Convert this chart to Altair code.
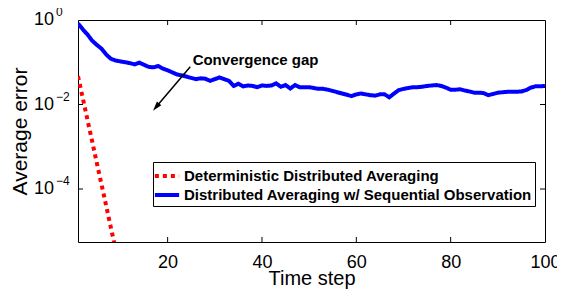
import altair as alt
import pandas as pd

# ---------------- data ----------------
series_names = ["Deterministic Distributed Averaging",
                "Distributed Averaging w/ Sequential Observation"]

# Deterministic averaging (red dotted): time steps and log10(error)
red_steps = [1, 2, 3, 4, 5, 6, 7, 8, 9]
red_log10 = [-1.33, -1.84, -2.36, -2.87, -3.39, -3.90, -4.41, -4.93, -5.44]

# Sequential observation (blue solid): time steps 1..100 and log10(error)
blue_steps = list(range(1, 101))
blue_log10 = [
    -0.08, -0.22, -0.34, -0.49, -0.59, -0.68, -0.82, -0.92, -0.96, -0.98,
    -1.00, -1.02, -1.05, -1.01, -1.06, -1.11, -1.12, -1.09, -1.15, -1.19,
    -1.24, -1.29, -1.31, -1.34, -1.37, -1.40, -1.38, -1.39, -1.44, -1.40,
    -1.36, -1.40, -1.44, -1.56, -1.51, -1.57, -1.55, -1.56, -1.59, -1.55,
    -1.56, -1.55, -1.50, -1.58, -1.54, -1.62, -1.54, -1.59, -1.59, -1.59,
    -1.61, -1.63, -1.63, -1.65, -1.68, -1.71, -1.74, -1.77, -1.80, -1.76,
    -1.74, -1.76, -1.78, -1.79, -1.76, -1.76, -1.83, -1.74, -1.66, -1.63,
    -1.61, -1.59, -1.59, -1.58, -1.56, -1.55, -1.54, -1.56, -1.60, -1.65,
    -1.65, -1.64, -1.67, -1.69, -1.72, -1.72, -1.73, -1.78, -1.75, -1.72,
    -1.71, -1.70, -1.70, -1.70, -1.69, -1.66, -1.60, -1.57, -1.57, -1.56,
]

x_ticks = [20, 40, 60, 80, 100]
y_ticks = [1, 0.01, 0.0001]
y_tick_exps = ["0", "\u22122", "\u22124"]

annot_text = ["Convergence gap"]
annot_t = [25.3]
annot_err = [0.086]
arrow_tail = (24.8, 0.0785)
arrow_head = (17.55, 0.0087)

# ---------------- tables ----------------
rows = []
for t, v in zip(red_steps, red_log10):
    rows.append({"t": t, "err": 10 ** v, "series": series_names[0]})
for t, v in zip(blue_steps, blue_log10):
    rows.append({"t": t, "err": 10 ** v, "series": series_names[1]})
df = pd.DataFrame(rows)

W, H = 467, 222
FONT = "Liberation Sans"

xscale = alt.Scale(domain=[1, 100], nice=False, zero=False)
yscale = alt.Scale(type="log", domain=[10 ** -5.254, 1], nice=False)

legend = alt.Legend(
    title=None, orient="none", legendX=75, legendY=142,
    symbolType="M-1.4,0H1.4", symbolSize=300, symbolStrokeWidth=4,
    labelFont=FONT, labelFontWeight="bold", labelFontSize=15,
    labelLimit=0, labelOffset=6, labelColor="black",
    padding=3, strokeColor="black", fillColor="white", rowPadding=0,
)

lines = alt.Chart(df).mark_line(strokeWidth=4, clip=True, strokeCap="butt").encode(
    x=alt.X("t:Q", scale=xscale,
            axis=alt.Axis(values=x_ticks, title="Time step", grid=False, domain=False,
                          ticks=False, labelFont=FONT, labelFontSize=18, labelColor="black",
                          labelPadding=11, labelFlush=False, labelOverlap=False,
                          titleFont=FONT, titleFontSize=20, titleFontWeight="normal",
                          titleColor="black", titleY=42, titleBaseline="alphabetic")),
    y=alt.Y("err:Q", scale=yscale,
            axis=alt.Axis(labels=False, ticks=False, grid=False, domain=False,
                          title="Average error", titleFont=FONT, titleFontSize=21,
                          titleFontWeight="normal", titleColor="black",
                          titleAngle=270, titleX=-58, titleY=111,
                          titleAlign="center", titleBaseline="middle")),
    color=alt.Color("series:N", scale=alt.Scale(domain=series_names,
                                                range=["#ff0000", "#0000ff"]),
                    legend=legend),
    strokeDash=alt.StrokeDash("series:N", scale=alt.Scale(domain=series_names,
                                                          range=[[4, 4], [1, 0]]),
                              legend=legend),
)

# custom y labels: "10" with superscript exponent
ylab = pd.DataFrame({"err": y_ticks, "exp": y_tick_exps})
ylab_base = alt.Chart(ylab).mark_text(align="left", baseline="middle", fontSize=18,
                                      font=FONT, color="black").encode(
    y=alt.Y("err:Q", scale=yscale), x=alt.value(-44), text=alt.value("10"))
ylab_exp = alt.Chart(ylab).mark_text(align="left", baseline="middle", fontSize=12,
                                     font=FONT, color="black", dy=-8).encode(
    y=alt.Y("err:Q", scale=yscale), x=alt.value(-22), text="exp:N")

# inside ticks
xt = pd.DataFrame({"t": x_ticks[:-1]})
xt_bottom = alt.Chart(xt).mark_rule(color="black").encode(
    x=alt.X("t:Q", scale=xscale), y=alt.value(H), y2=alt.value(H - 5))
xt_top = alt.Chart(xt).mark_rule(color="black").encode(
    x=alt.X("t:Q", scale=xscale), y=alt.value(0), y2=alt.value(5))
yt = pd.DataFrame({"err": y_ticks[1:]})
yt_left = alt.Chart(yt).mark_rule(color="black").encode(
    y=alt.Y("err:Q", scale=yscale), x=alt.value(0), x2=alt.value(5))
yt_right = alt.Chart(yt).mark_rule(color="black").encode(
    y=alt.Y("err:Q", scale=yscale), x=alt.value(W), x2=alt.value(W - 5))

# annotation
ann = pd.DataFrame({"t": annot_t, "err": annot_err, "label": annot_text})
ann_text = alt.Chart(ann).mark_text(align="left", baseline="alphabetic", font=FONT,
                                    fontSize=15, fontWeight="bold", color="black").encode(
    x=alt.X("t:Q", scale=xscale), y=alt.Y("err:Q", scale=yscale), text="label:N")

arr = pd.DataFrame({"t": [arrow_tail[0]], "err": [arrow_tail[1]],
                    "t2": [arrow_head[0]], "err2": [arrow_head[1]]})
arrow_line = alt.Chart(arr).mark_rule(color="black", strokeWidth=1.5).encode(
    x=alt.X("t:Q", scale=xscale), y=alt.Y("err:Q", scale=yscale),
    x2="t2:Q", y2="err2:Q")
head = pd.DataFrame({"t": [arrow_head[0]], "err": [arrow_head[1]]})
arrow_head_mark = alt.Chart(head).mark_point(
    shape="M0,-1L0.6,1L-0.6,1Z", filled=True, color="black", opacity=1,
    size=90, angle=220).encode(
    x=alt.X("t:Q", scale=xscale), y=alt.Y("err:Q", scale=yscale))

chart = alt.layer(
    lines, xt_bottom, xt_top, yt_left, yt_right,
    ann_text, arrow_line, arrow_head_mark, ylab_base, ylab_exp,
).properties(
    width=W, height=H,
    padding={"left": 70, "top": 12, "right": 12, "bottom": 49},
    autosize=alt.AutoSizeParams(type="none"),
    background="white",
).configure_view(stroke="black", strokeWidth=1)

chart.save("out.html", embed_options={"renderer": "svg", "actions": False})
